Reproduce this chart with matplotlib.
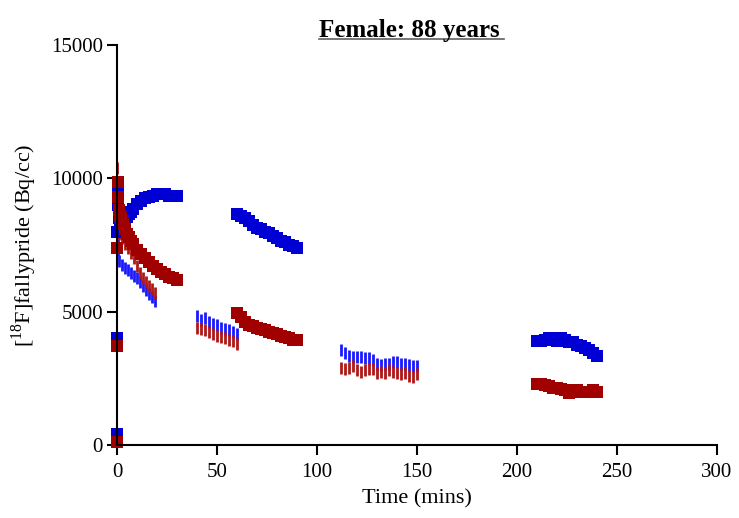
import matplotlib
matplotlib.use("Agg")
import matplotlib.pyplot as plt
from matplotlib.lines import Line2D

plt.rcParams['font.family'] = ['Liberation Serif', 'DejaVu Serif']
plt.rcParams['mathtext.fontset'] = 'custom'
plt.rcParams['mathtext.rm'] = 'Liberation Serif'

# scan 1 (large squares), three acquisition blocks
t_big1 = [0.08, 0.17, 0.25, 0.5, 0.75, 1, 1.5, 2, 3, 4, 5, 6, 7, 8, 10, 12,
          14, 16, 18, 20, 22, 24, 26, 28, 30]
blue_big1 = [400, 4000, 8000, 9500, 9000, 8500, 8300, 8200, 8300, 8400, 8550,
             8650, 8750, 8850, 9050, 9150, 9250, 9300, 9350, 9400, 9400, 9400,
             9350, 9350, 9350]
red_big1 = [100, 3700, 7400, 9850, 9300, 8800, 8600, 8500, 8300, 8100, 7900,
            7800, 7650, 7550, 7300, 7150, 7000, 6850, 6700, 6600, 6500, 6400,
            6300, 6250, 6200]

t_big2 = [60, 62, 64, 66, 68, 70, 72, 74, 76, 78, 80, 82, 84, 86, 88, 90]
blue_big2 = [8650, 8600, 8500, 8400, 8250, 8150, 8100, 8000, 7950, 7850, 7750,
             7650, 7600, 7500, 7450, 7400]
red_big2 = [4950, 4800, 4600, 4500, 4450, 4400, 4350, 4300, 4250, 4200, 4150,
            4100, 4050, 4000, 3950, 3950]

t_big3 = [210, 212, 214, 216, 218, 220, 222, 224, 226, 228, 230, 232, 234, 236,
          238, 240]
blue_big3 = [3900, 3900, 3950, 4000, 4000, 3900, 4000, 3950, 3850, 3850, 3750,
             3700, 3650, 3550, 3450, 3350]
red_big3 = [2300, 2300, 2250, 2200, 2150, 2150, 2100, 2050, 1950, 2050, 2050,
            2000, 2000, 2000, 2050, 2000]

# scan 2 (thin bars), three acquisition blocks
t_small1 = [0.25, 0.5, 0.75, 1, 2.5, 4, 5.5, 7, 8.5, 10, 11.5, 13, 14.5, 16,
            17.5, 19]
blue_small1 = [8200, 7800, 7300, 6900, 6750, 6650, 6550, 6450, 6350, 6250,
               6100, 5950, 5800, 5650, 5550, 5400]
red_small1 = [10400, 8500, 8000, 7900, 7750, 7550, 7400, 7200, 7000, 6700,
              6450, 6250, 6100, 5950, 5850, 5700]

t_small2 = [40, 42, 44, 46, 48, 50, 52, 54, 56, 58, 60]
blue_small2 = [4840, 4700, 4750, 4600, 4550, 4500, 4400, 4350, 4300, 4250, 4150]
red_small2 = [4400, 4350, 4300, 4250, 4150, 4100, 4050, 4000, 3950, 3900, 3800]

t_small3 = [112, 114, 116, 118, 120, 122, 124, 126, 128, 130, 132, 134, 136,
            138, 140, 142, 144, 146, 148, 150]
blue_small3 = [3550, 3450, 3350, 3300, 3300, 3300, 3250, 3250, 3200, 3050,
               3000, 3050, 3050, 3100, 3100, 3050, 3050, 3000, 2950, 2950]
red_small3 = [2900, 2850, 2900, 2950, 2800, 2750, 2800, 2850, 2850, 2700,
              2750, 2700, 2800, 2750, 2700, 2650, 2700, 2600, 2550, 2650]

BLUE = '#0000d4'
RED = '#a00000'
BLUE_S = '#1a1aff'
RED_S = '#b01818'

fig = plt.figure(figsize=(7.39, 5.18), dpi=100)
ax = fig.add_axes([117 / 739, 73 / 518, 600 / 739, 400 / 518])

for t, b, r in [(t_small1, blue_small1, red_small1),
                (t_small2, blue_small2, red_small2),
                (t_small3, blue_small3, red_small3)]:
    ax.plot(t, b, linestyle='none', marker='|', ms=8, mew=2, color=BLUE_S,
            clip_on=False)
    ax.plot(t, r, linestyle='none', marker='|', ms=8, mew=2, color=RED_S,
            clip_on=False)

for t, b in [(t_big1, blue_big1), (t_big2, blue_big2), (t_big3, blue_big3)]:
    ax.plot(t, b, linestyle='none', marker='s', ms=8, mew=0, color=BLUE,
            clip_on=False)
for t, r in [(t_big1, red_big1), (t_big2, red_big2), (t_big3, red_big3)]:
    ax.plot(t, r, linestyle='none', marker='s', ms=8, mew=0, color=RED,
            clip_on=False)

ax.set_xlim(0, 300)
ax.set_ylim(0, 15000)
ax.set_xticks([0, 50, 100, 150, 200, 250, 300])
ax.set_yticks([0, 5000, 10000, 15000])
for s in ['top', 'right']:
    ax.spines[s].set_visible(False)
for s in ['left', 'bottom']:
    ax.spines[s].set_linewidth(1.5)
ax.tick_params(direction='out', length=7, width=1.5, labelsize=15)
ax.tick_params(axis='x', pad=6)
ax.tick_params(axis='y', pad=3)

ax.set_xlabel('Time (mins)', fontsize=16, labelpad=5)
ax.set_ylabel(r'[$^{18}$F]fallypride (Bq/cc)', fontsize=16, labelpad=9)

# underlined bold title
title = fig.text(409 / 739, 1 - 30 / 518, 'Female: 88 years', ha='center',
                 va='center', fontsize=18, fontweight='bold')
fig.canvas.draw()
bb = title.get_window_extent().transformed(fig.transFigure.inverted())
fig.add_artist(Line2D([bb.x0, bb.x1 + 0.006], [bb.y0 + 0.004, bb.y0 + 0.004],
                      transform=fig.transFigure, color='#606060', lw=1.2))

fig.savefig('out.png', dpi=100)
